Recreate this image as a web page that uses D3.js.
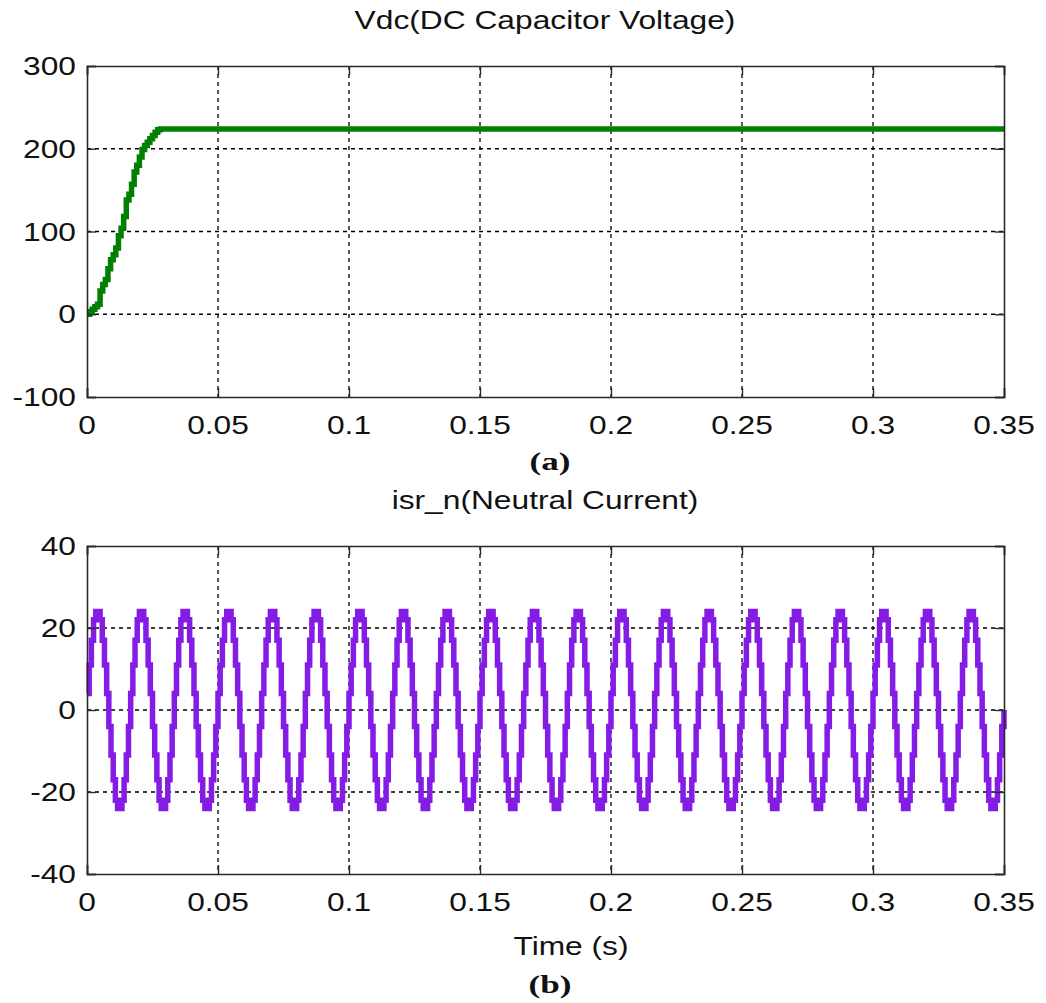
<!DOCTYPE html>
<html><head><meta charset="utf-8">
<script src="https://cdn.jsdelivr.net/npm/d3@7"></script>
<style>
html,body{margin:0;padding:0;background:#fff;}
text{font-family:"Liberation Sans",Arial,sans-serif;fill:#111;}
</style></head>
<body>
<svg id="chart" width="1046" height="1003"></svg>
<script>
// ---------- data ----------
const xTicks = [0, 0.05, 0.1, 0.15, 0.2, 0.25, 0.3, 0.35];
const xTickLabels = ["0", "0.05", "0.1", "0.15", "0.2", "0.25", "0.3", "0.35"];
const vdcYTicks = [-100, 0, 100, 200, 300];
const curYTicks = [-40, -20, 0, 20, 40];

const vdcTime = [0, 0.001, 0.002, 0.003, 0.004, 0.005, 0.006, 0.007, 0.008, 0.009,
  0.010, 0.011, 0.012, 0.013, 0.014, 0.015, 0.016, 0.017, 0.018, 0.019,
  0.020, 0.021, 0.022, 0.023, 0.024, 0.025, 0.026, 0.027, 0.028, 0.029, 0.35];
const vdcValue = [0, 3, 6, 9, 12, 28, 36, 42, 55, 66,
  72, 80, 95, 104, 118, 138, 145, 157, 172, 180,
  190, 199, 204, 208, 212, 216, 220, 223, 224, 224, 224];

// isr_n (neutral current), stepped samples (dt = 0.35/420 s)
const curDt = 0.35 / 420;
const curValue = [
  4, 11, 17, 22, 24, 24, 22, 17, 11, 4, -4, -11, -17, -22, -24, -24, -22, -17, -11, -4,
  4, 11, 17, 22, 24, 24, 22, 17, 11, 4, -4, -11, -17, -22, -24, -24, -22, -17, -11, -4,
  4, 11, 17, 22, 24, 24, 22, 17, 11, 4, -4, -11, -17, -22, -24, -24, -22, -17, -11, -4,
  4, 11, 17, 22, 24, 24, 22, 17, 11, 4, -4, -11, -17, -22, -24, -24, -22, -17, -11, -4,
  4, 11, 17, 22, 24, 24, 22, 17, 11, 4, -4, -11, -17, -22, -24, -24, -22, -17, -11, -4,
  4, 11, 17, 22, 24, 24, 22, 17, 11, 4, -4, -11, -17, -22, -24, -24, -22, -17, -11, -4,
  4, 11, 17, 22, 24, 24, 22, 17, 11, 4, -4, -11, -17, -22, -24, -24, -22, -17, -11, -4,
  4, 11, 17, 22, 24, 24, 22, 17, 11, 4, -4, -11, -17, -22, -24, -24, -22, -17, -11, -4,
  4, 11, 17, 22, 24, 24, 22, 17, 11, 4, -4, -11, -17, -22, -24, -24, -22, -17, -11, -4,
  4, 11, 17, 22, 24, 24, 22, 17, 11, 4, -4, -11, -17, -22, -24, -24, -22, -17, -11, -4,
  4, 11, 17, 22, 24, 24, 22, 17, 11, 4, -4, -11, -17, -22, -24, -24, -22, -17, -11, -4,
  4, 11, 17, 22, 24, 24, 22, 17, 11, 4, -4, -11, -17, -22, -24, -24, -22, -17, -11, -4,
  4, 11, 17, 22, 24, 24, 22, 17, 11, 4, -4, -11, -17, -22, -24, -24, -22, -17, -11, -4,
  4, 11, 17, 22, 24, 24, 22, 17, 11, 4, -4, -11, -17, -22, -24, -24, -22, -17, -11, -4,
  4, 11, 17, 22, 24, 24, 22, 17, 11, 4, -4, -11, -17, -22, -24, -24, -22, -17, -11, -4,
  4, 11, 17, 22, 24, 24, 22, 17, 11, 4, -4, -11, -17, -22, -24, -24, -22, -17, -11, -4,
  4, 11, 17, 22, 24, 24, 22, 17, 11, 4, -4, -11, -17, -22, -24, -24, -22, -17, -11, -4,
  4, 11, 17, 22, 24, 24, 22, 17, 11, 4, -4, -11, -17, -22, -24, -24, -22, -17, -11, -4,
  4, 11, 17, 22, 24, 24, 22, 17, 11, 4, -4, -11, -17, -22, -24, -24, -22, -17, -11, -4,
  4, 11, 17, 22, 24, 24, 22, 17, 11, 4, -4, -11, -17, -22, -24, -24, -22, -17, -11, -4,
  4, 11, 17, 22, 24, 24, 22, 17, 11, 4, -4, -11, -17, -22, -24, -24, -22, -17, -11, -4, 0
];

// ---------- drawing ----------
const svg = d3.select("#chart");
const SX = 1.22;

function txt(g, x, y, s, opts) {
  const t = g.append("text")
    .attr("transform", `translate(${x},${y}) scale(${opts.sx || SX},1)`)
    .attr("text-anchor", opts.anchor || "middle")
    .style("font-size", (opts.size || 26) + "px")
    .text(s);
  if (opts.bold) t.style("font-weight", "bold");
  if (opts.family) t.style("font-family", opts.family);
  return t;
}

function panel(cfg) {
  const x = d3.scaleLinear().domain([0, 0.35]).range([87, 1004]);
  const y = d3.scaleLinear().domain(cfg.yDomain).range([cfg.bottom, cfg.top]);
  const g = svg.append("g");

  // grid
  const grid = g.append("g").attr("stroke", "#000").attr("stroke-width", 1.3)
    .attr("stroke-dasharray", "4,4");
  xTicks.slice(1, -1).forEach(v => grid.append("line")
    .attr("x1", x(v)).attr("x2", x(v)).attr("y1", cfg.top).attr("y2", cfg.bottom));
  cfg.yTicks.slice(1, -1).forEach(v => grid.append("line")
    .attr("x1", 87).attr("x2", 1004).attr("y1", y(v)).attr("y2", y(v)));

  // data line
  g.append("path")
    .attr("d", d3.line().curve(d3.curveStepAfter).x(d => x(d[0])).y(d => y(d[1]))(cfg.data))
    .attr("fill", "none").attr("stroke", cfg.color).attr("stroke-width", 5.5)
    .attr("stroke-linejoin", "miter");

  // axes via d3 axis (ticks inward), box
  const ax = g.append("g").attr("transform", `translate(0,${cfg.bottom})`)
    .call(d3.axisBottom(x).tickValues(xTicks).tickSize(-9).tickFormat(""));
  const axT = g.append("g").attr("transform", `translate(0,${cfg.top})`)
    .call(d3.axisTop(x).tickValues(xTicks).tickSize(-9).tickFormat(""));
  const ay = g.append("g").attr("transform", `translate(87,0)`)
    .call(d3.axisLeft(y).tickValues(cfg.yTicks).tickSize(-9).tickFormat(""));
  const ayR = g.append("g").attr("transform", `translate(1004,0)`)
    .call(d3.axisRight(y).tickValues(cfg.yTicks).tickSize(-9).tickFormat(""));
  [ax, axT, ay, ayR].forEach(a => {
    a.selectAll("path").attr("stroke", "#2a2a2a").attr("stroke-width", 1.6);
    a.selectAll("line").attr("stroke", "#2a2a2a").attr("stroke-width", 1.4);
  });

  // labels
  xTicks.forEach((v, i) => txt(g, x(v), cfg.bottom + 37, xTickLabels[i], {}));
  cfg.yTicks.forEach(v => txt(g, 76, y(v) + 9, String(v), { anchor: "end" }));
  txt(g, 545, cfg.top - 37, cfg.title, {});
}

panel({
  top: 66, bottom: 397, yDomain: [-100, 300], yTicks: vdcYTicks,
  color: "#008000", title: "Vdc(DC Capacitor Voltage)",
  data: vdcTime.map((t, i) => [t, vdcValue[i]])
});
panel({
  top: 546, bottom: 874, yDomain: [-40, 40], yTicks: curYTicks,
  color: "#841ce6", title: "isr_n(Neutral Current)",
  data: curValue.map((v, i) => [Math.min(i * curDt, 0.35), v])
});

txt(svg, 550, 470, "(a)", { bold: true, family: "'Liberation Serif','Times New Roman',serif", sx: 1.35 });
txt(svg, 571, 955, "Time (s)", {});
txt(svg, 550, 993, "(b)", { bold: true, family: "'Liberation Serif','Times New Roman',serif", sx: 1.35 });
</script>
</body></html>
